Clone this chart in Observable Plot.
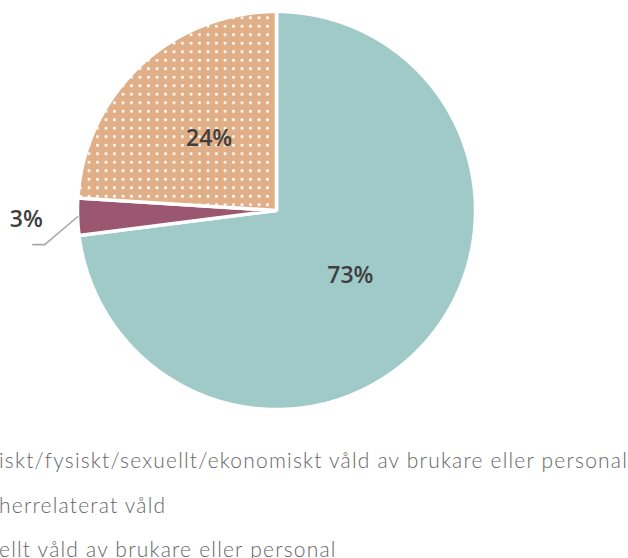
<!DOCTYPE html>
<html><head><meta charset="utf-8">
<script src="https://cdn.jsdelivr.net/npm/d3@7"></script>
<script src="https://cdn.jsdelivr.net/npm/@observablehq/plot@0.6"></script>
<style>
body{margin:0;background:#fff;}
#wrap{position:relative;width:628px;height:558px;overflow:hidden;}
#chart{position:absolute;left:0;top:0;}
.leg{position:absolute;left:-1px;font-family:Lato,"Open Sans",sans-serif;font-weight:300;font-size:21px;letter-spacing:1.2px;color:#666;white-space:nowrap;line-height:1;}
</style></head>
<body><div id="wrap"><div id="chart"></div></div>
<script>
const categories = ["Psykiskt/fysiskt", "Herrelaterat", "Sexuellt"];
const values = [73, 3, 24];
const labels = ["73%", "3%", "24%"];
const colors = ["#9fcac8", "#9b5670", "url(#dots)"];
const legendLabels = [
  "iskt/fysiskt/sexuellt/ekonomiskt våld av brukare eller personal",
  "herrelaterat våld",
  "ellt våld av brukare eller personal"
];

const W = 628, H = 420, R = 199, cx = 276, cy = 210;
const pie = d3.pie().sort(null).value(d => d)(values);
const pt = (a, r) => ({x: r * Math.sin(a), y: r * Math.cos(a)});

const marks = [];
pie.forEach((p, i) => {
  const pts = [pt(0, 0)];
  const n = Math.max(4, Math.ceil((p.endAngle - p.startAngle) / 0.005));
  for (let k = 0; k <= n; k++) pts.push(pt(p.startAngle + (p.endAngle - p.startAngle) * k / n, 1));
  marks.push(Plot.line(pts, {x: "x", y: "y", curve: "linear-closed", fill: colors[i], stroke: "white", strokeWidth: 3.5, strokeLinejoin: "miter"}));
});

// inside labels
const inside = pie.map((p, i) => ({...pt((p.startAngle + p.endAngle) / 2, 0.495), t: labels[i], i})).filter(d => values[d.i] >= 10);
marks.push(Plot.text(inside, {x: "x", y: "y", text: "t", fontSize: 23, fontWeight: 600, fill: "#3f3f3f", fontFamily: "'Open Sans', sans-serif"}));

// small slice: leader line + label
const small = pie[1];
const ma = (small.startAngle + small.endAngle) / 2;
const p0 = pt(ma, 1.0);
const p1 = {x: p0.x - 0.165, y: p0.y - 0.14};
const p2 = {x: p1.x - 0.06, y: p1.y};
marks.push(Plot.line([p0, p1, p2], {x: "x", y: "y", stroke: "#a8a8a8", strokeWidth: 1.6}));
marks.push(Plot.text([{x: p2.x - 0.033, y: p0.y - 0.012, t: labels[1]}], {x: "x", y: "y", text: "t", fontSize: 23, fontWeight: 600, fill: "#3f3f3f", fontFamily: "'Open Sans', sans-serif"}));

const chart = Plot.plot({
  width: W, height: H, margin: 0,
  x: {domain: [-cx / R, (W - cx) / R], range: [0, W], axis: null},
  y: {domain: [-(H - cy) / R, cy / R], range: [H, 0], axis: null},
  marks
});
const defs = d3.select(chart).insert("defs", ":first-child");
const pat = defs.append("pattern").attr("id", "dots").attr("patternUnits", "userSpaceOnUse")
  .attr("width", 8.5).attr("height", 8.5).attr("x", 2.2).attr("y", 7.4);
pat.append("rect").attr("width", 8.5).attr("height", 8.5).attr("fill", "#e0af87");
pat.append("rect").attr("width", 2.6).attr("height", 2.6).attr("fill", "#ffffff");
document.getElementById("chart").appendChild(chart);

const wrap = document.getElementById("wrap");
legendLabels.forEach((t, i) => {
  const d = document.createElement("div");
  d.className = "leg";
  d.textContent = t;
  d.style.top = (449 + i * 44.5) + "px";
  wrap.appendChild(d);
});
</script></body></html>
